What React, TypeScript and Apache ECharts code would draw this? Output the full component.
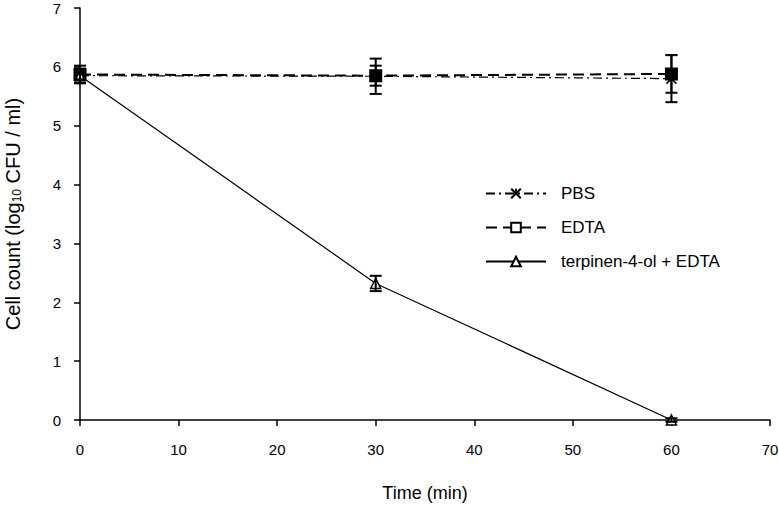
import React, { useEffect, useRef } from "react";
import * as echarts from "echarts";

const times = [0, 30, 60];
const pbs = [5.85, 5.84, 5.8];
const pbsErr = [0.12, 0.3, 0.4];
const edta = [5.87, 5.85, 5.88];
const edtaErr = [0.15, 0.17, 0.32];
const terp = [5.85, 2.32, 0];
const terpErr = [0.06, 0.13, 0.03];
const xTicks = [0, 10, 20, 30, 40, 50, 60, 70];
const yTicks = [0, 1, 2, 3, 4, 5, 6, 7];
const names = ["PBS", "EDTA", "terpinen-4-ol + EDTA"];

const FONT = "'Liberation Sans', Arial, sans-serif";

function pairs(v: number[]) {
  return times.map((t, i) => [t, v[i]]);
}
function errs(v: number[], e: number[]) {
  return times.map((t, i) => [t, v[i] - e[i], v[i] + e[i]]);
}

function errSeries(v: number[], e: number[]) {
  return {
    type: "custom",
    z: 5,
    silent: true,
    encode: { x: 0, y: [1, 2] },
    data: errs(v, e),
    renderItem: (params: any, api: any) => {
      const x = api.value(0);
      const lo = api.value(1);
      const hi = api.value(2);
      const a = api.coord([x, hi]);
      const b = api.coord([x, lo]);
      const hw = 6;
      const st = { stroke: "#000", lineWidth: 2 };
      return {
        type: "group",
        children: [
          { type: "line", shape: { x1: a[0], y1: a[1], x2: b[0], y2: b[1] }, style: st },
          { type: "line", shape: { x1: a[0] - hw, y1: a[1], x2: a[0] + hw, y2: a[1] }, style: st },
          { type: "line", shape: { x1: b[0] - hw, y1: b[1], x2: b[0] + hw, y2: b[1] }, style: st },
        ],
      };
    },
  };
}

export default function App() {
  const ref = useRef<HTMLDivElement>(null);
  useEffect(() => {
    if (!ref.current) return;
    const chart = echarts.init(ref.current, null, { renderer: "svg" });
    chart.setOption({
      animation: false,
      backgroundColor: "#fff",
      grid: { left: 80, right: 9, top: 8, bottom: 89, containLabel: false, outerBoundsMode: "none" },
      legend: {
        orient: "vertical",
        left: 480,
        top: 180,
        itemWidth: 60,
        itemHeight: 12,
        itemGap: 17,
        textStyle: { fontFamily: FONT, fontSize: 17, color: "#000", padding: [0, 0, 0, 10] },
        data: [
          { name: names[0] },
          { name: names[1], itemStyle: { color: "#fff" } },
          { name: names[2] },
        ],
      },
      xAxis: {
        type: "value",
        min: 0,
        max: 70,
        interval: 10,
        name: "Time (min)",
        nameLocation: "middle",
        nameGap: 64,
        nameTextStyle: { fontFamily: FONT, fontSize: 18, color: "#000" },
        axisLine: { onZero: false, lineStyle: { color: "#000", width: 1.5 } },
        axisTick: { show: true, length: 6, lineStyle: { color: "#000", width: 1.5 } },
        axisLabel: {
          fontFamily: FONT,
          fontSize: 15,
          color: "#000",
          margin: 22,
          formatter: (v: number) => (xTicks.includes(v) ? String(v) : ""),
        },
        splitLine: { show: false },
      },
      yAxis: {
        type: "value",
        min: 0,
        max: 7,
        interval: 1,
        name: "Cell count (log{sub|10} CFU / ml)",
        nameLocation: "middle",
        nameGap: 57,
        nameTextStyle: {
          fontFamily: FONT,
          fontSize: 20,
          color: "#000",
          rich: {
            sub: { fontFamily: FONT, fontSize: 12, color: "#000", verticalAlign: "bottom", padding: [9, 0, 0, 0] },
          },
        },
        axisLine: { show: true, lineStyle: { color: "#000", width: 1.5 } },
        axisTick: { show: true, length: 6, lineStyle: { color: "#000", width: 1.5 } },
        axisLabel: {
          fontFamily: FONT,
          fontSize: 15,
          color: "#000",
          margin: 19,
          formatter: (v: number) => (yTicks.includes(v) ? String(v) : ""),
        },
        splitLine: { show: false },
      },
      series: [
        {
          name: names[0],
          type: "line",
          data: pairs(pbs),
          symbol: "path://M0,0L10,10M10,0L0,10M5,0L5,3",
          symbolSize: 10,
          lineStyle: { color: "#000", width: 1.2, type: [9, 4, 2, 4] },
          itemStyle: { color: "#000", borderColor: "#000", borderWidth: 1.5 },
          z: 3,
        },
        {
          name: names[1],
          type: "line",
          data: pairs(edta),
          symbol: "rect",
          symbolSize: 11,
          lineStyle: { color: "#000", width: 2, type: [11, 6] },
          itemStyle: { color: "#000", borderColor: "#000", borderWidth: 2 },
          z: 3,
        },
        {
          name: names[2],
          type: "line",
          data: pairs(terp),
          symbol: "triangle",
          symbolSize: 10,
          lineStyle: { color: "#000", width: 1.2, type: "solid" },
          itemStyle: { color: "#fff", borderColor: "#000", borderWidth: 1.5 },
          z: 3,
        },
        errSeries(pbs, pbsErr),
        errSeries(edta, edtaErr),
        errSeries(terp, terpErr),
      ],
    });
    return () => chart.dispose();
  }, []);
  return <div ref={ref} style={{ width: 779, height: 509, position: "absolute", left: 0, top: 0 }} />;
}
